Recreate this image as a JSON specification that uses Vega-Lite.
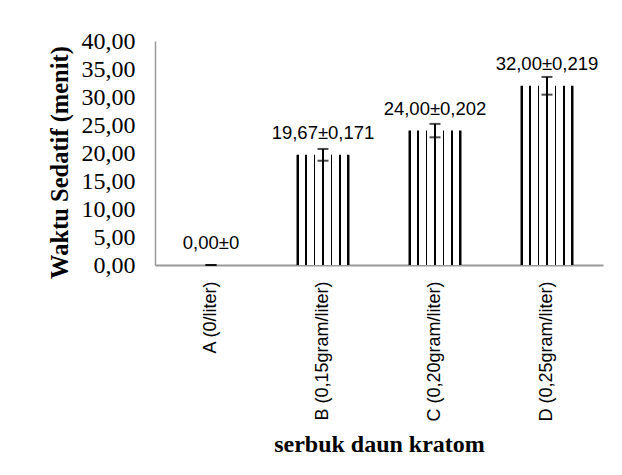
{
  "$schema": "https://vega.github.io/schema/vega-lite/v6.json",
  "autosize": {"type": "none"},
  "padding": {"left": 155, "top": 41, "right": 19, "bottom": 210},
  "width": 448,
  "height": 224,
  "background": "white",
  "data": {
    "values": [
      {"cat": "A (0/liter)", "value": 0, "err": 0, "label": "0,00±0"},
      {"cat": "B (0,15gram/liter)", "value": 19.67, "err": 1.05, "label": "19,67±0,171"},
      {"cat": "C (0,20gram/liter)", "value": 24.0, "err": 1.2, "label": "24,00±0,202"},
      {"cat": "D (0,25gram/liter)", "value": 32.0, "err": 1.58, "label": "32,00±0,219"}
    ]
  },
  "encoding": {
    "x": {
      "field": "cat", "type": "nominal", "sort": null,
      "scale": {"paddingInner": 0.527, "paddingOuter": 0.2635},
      "axis": {
        "title": "serbuk daun kratom",
        "titleFont": "Liberation Serif", "titleFontSize": 24, "titleFontWeight": "bold", "titleColor": "black",
        "titlePadding": 11,
        "labelAngle": -90, "labelFont": "Liberation Sans", "labelFontSize": 18, "labelColor": "black",
        "labelPadding": 16, "ticks": false,
        "domainColor": "#999999", "domainWidth": 2
      }
    },
    "y": {
      "field": "value", "type": "quantitative",
      "scale": {"domain": [0, 40], "nice": false},
      "axis": {
        "title": "Waktu Sedatif (menit)",
        "titleFont": "Liberation Serif", "titleFontSize": 24.5, "titleFontWeight": "bold", "titleColor": "black",
        "titlePadding": 9, "titleY": 121,
        "values": [0, 5, 10, 15, 20, 25, 30, 35, 40],
        "labelExpr": "replace(format(datum.value, '.2f'), '.', ',')",
        "labelFont": "Liberation Serif", "labelFontSize": 24, "labelColor": "black",
        "labelPadding": 20, "ticks": false, "grid": false,
        "domainColor": "#999999", "domainWidth": 1.5
      }
    }
  },
  "layer": [
    {
      "mark": {
        "type": "bar",
        "fill": {
          "gradient": "linear", "x1": 0, "x2": 1, "y1": 0, "y2": 0,
          "stops": [
            {"offset": 0, "color": "black"}, {"offset": 0.038, "color": "black"},
            {"offset": 0.038, "color": "white"}, {"offset": 0.160, "color": "white"},
            {"offset": 0.160, "color": "black"}, {"offset": 0.198, "color": "black"},
            {"offset": 0.198, "color": "white"}, {"offset": 0.321, "color": "white"},
            {"offset": 0.321, "color": "black"}, {"offset": 0.358, "color": "black"},
            {"offset": 0.358, "color": "white"}, {"offset": 0.481, "color": "white"},
            {"offset": 0.481, "color": "black"}, {"offset": 0.519, "color": "black"},
            {"offset": 0.519, "color": "white"}, {"offset": 0.642, "color": "white"},
            {"offset": 0.642, "color": "black"}, {"offset": 0.679, "color": "black"},
            {"offset": 0.679, "color": "white"}, {"offset": 0.802, "color": "white"},
            {"offset": 0.802, "color": "black"}, {"offset": 0.840, "color": "black"},
            {"offset": 0.840, "color": "white"}, {"offset": 0.962, "color": "white"},
            {"offset": 0.962, "color": "black"}, {"offset": 1, "color": "black"}
          ]
        }
      }
    },
    {
      "mark": {
        "type": "errorbar",
        "ticks": {"size": 11, "thickness": 2, "color": "black"},
        "rule": {"strokeWidth": 2, "color": "black"}
      },
      "encoding": {
        "yError": {"field": "err"}
      }
    },
    {
      "mark": {"type": "text", "font": "Liberation Sans", "fontSize": 18.5, "color": "black", "baseline": "alphabetic", "dy": -16},
      "encoding": {
        "text": {"field": "label"}
      }
    }
  ],
  "config": {"view": {"stroke": null}}
}
